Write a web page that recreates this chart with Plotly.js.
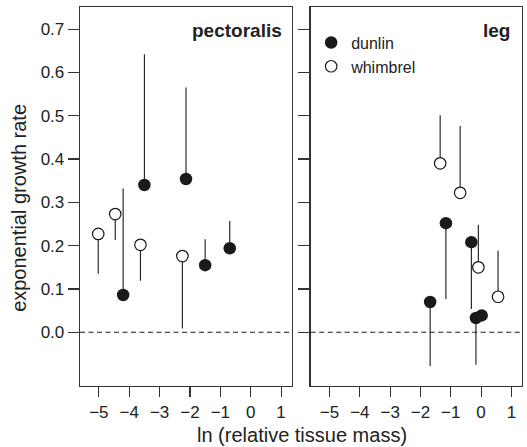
<!DOCTYPE html>
<html>
<head>
<meta charset="utf-8">
<script src="https://cdn.plot.ly/plotly-3.0.1.min.js"></script>
<style>html,body{margin:0;padding:0;background:#fff;}#chart{width:527px;height:447px;}</style>
</head>
<body>
<div id="chart"></div>
<script>
// pectoralis panel
const pecDunlinX   = [-4.2, -3.5, -2.13, -1.5, -0.69];
const pecDunlinY   = [0.086, 0.34, 0.354, 0.155, 0.194];
const pecDunlinEnd = [0.332, 0.642, 0.565, 0.215, 0.257];
const pecWhimX     = [-5.02, -4.46, -3.63, -2.25];
const pecWhimY     = [0.227, 0.273, 0.202, 0.176];
const pecWhimEnd   = [0.135, 0.213, 0.119, 0.009];
// leg panel
const legDunlinX   = [-1.68, -1.16, -0.32, -0.17, 0.02];
const legDunlinY   = [0.07, 0.252, 0.208, 0.033, 0.039];
const legDunlinEnd = [-0.078, 0.077, 0.054, -0.075, 0.039];
const legWhimX     = [-1.35, -0.69, -0.09, 0.56];
const legWhimY     = [0.39, 0.322, 0.15, 0.082];
const legWhimEnd   = [0.501, 0.476, 0.248, 0.188];

const xTicks = [-5, -4, -3, -2, -1, 0, 1];
const yTicks = [0, 0.1, 0.2, 0.3, 0.4, 0.5, 0.6, 0.7];

function errs(y, end) {
  return {
    type: 'data', symmetric: false,
    array: y.map((v, i) => Math.max(0, end[i] - v)),
    arrayminus: y.map((v, i) => Math.max(0, v - end[i])),
    width: 0, thickness: 1.1, color: '#1a1a1a'
  };
}
const filled = {size: 12.5, color: '#1a1a1a', line: {width: 0}};
const open = {size: 11.5, color: '#ffffff', line: {width: 1.2, color: '#1a1a1a'}};

const traces = [
  {x: pecDunlinX, y: pecDunlinY, error_y: errs(pecDunlinY, pecDunlinEnd), mode: 'markers', type: 'scatter', marker: filled, xaxis: 'x', yaxis: 'y', name: 'dunlin', showlegend: true, legendgroup: 'd'},
  {x: pecWhimX, y: pecWhimY, error_y: errs(pecWhimY, pecWhimEnd), mode: 'markers', type: 'scatter', marker: open, xaxis: 'x', yaxis: 'y', name: 'whimbrel', showlegend: true, legendgroup: 'w'},
  {x: legDunlinX, y: legDunlinY, error_y: errs(legDunlinY, legDunlinEnd), mode: 'markers', type: 'scatter', marker: filled, xaxis: 'x2', yaxis: 'y2', name: 'dunlin', showlegend: false, legendgroup: 'd'},
  {x: legWhimX, y: legWhimY, error_y: errs(legWhimY, legWhimEnd), mode: 'markers', type: 'scatter', marker: open, xaxis: 'x2', yaxis: 'y2', name: 'whimbrel', showlegend: false, legendgroup: 'w'}
];

const FAM = 'Liberation Sans, Arial, sans-serif';
const axFont = {family: FAM, size: 17, color: '#222'};
const xBase = {
  range: [-5.62, 1.35], tickvals: xTicks, ticktext: xTicks.map(v => v < 0 ? '\u2212' + Math.abs(v) : String(v)),
  ticks: 'outside', ticklen: 10, tickwidth: 1.1, tickcolor: '#333',
  showline: true, mirror: true, linecolor: '#333', linewidth: 1.3,
  showgrid: false, zeroline: false, tickfont: axFont
};
const yBase = {
  range: [-0.124, 0.751], tickvals: yTicks,
  ticks: 'outside', ticklen: 11, tickwidth: 1.1, tickcolor: '#333',
  showline: true, mirror: true, linecolor: '#333', linewidth: 1.3,
  showgrid: false, zeroline: false, tickfont: axFont
};

const layout = {
  width: 527, height: 447,
  margin: {l: 80, r: 5, t: 7, b: 61},
  paper_bgcolor: '#fff', plot_bgcolor: '#fff',
  font: axFont,
  xaxis: Object.assign({}, xBase, {domain: [0, 0.479], anchor: 'y'}),
  xaxis2: Object.assign({}, xBase, {domain: [0.522, 1], anchor: 'y2'}),
  yaxis: Object.assign({}, yBase, {domain: [0, 1], anchor: 'x', tickformat: '.1f'}),
  yaxis2: Object.assign({}, yBase, {domain: [0, 1], anchor: 'x2', showticklabels: false}),
  showlegend: true,
  legend: {x: 0.523, y: 0.951, xanchor: 'left', yanchor: 'top', bgcolor: 'rgba(0,0,0,0)',
           font: {family: FAM, size: 16, color: '#222'},
           tracegroupgap: 0, itemwidth: 30},
  shapes: [
    {type: 'line', xref: 'x domain', yref: 'y', x0: 0, x1: 1, y0: 0, y1: 0, line: {color: '#1a1a1a', width: 1.1, dash: '5px,3.5px'}},
    {type: 'line', xref: 'x2 domain', yref: 'y2', x0: 0, x1: 1, y0: 0, y1: 0, line: {color: '#1a1a1a', width: 1.1, dash: '5px,3.5px'}}
  ],
  annotations: [
    {text: '<b>pectoralis</b>', xref: 'x domain', yref: 'paper', x: 0.965, y: 0.938, xanchor: 'right', yanchor: 'middle', showarrow: false, font: {family: FAM, size: 19, color: '#222'}},
    {text: '<b>leg</b>', xref: 'x2 domain', yref: 'paper', x: 0.955, y: 0.938, xanchor: 'right', yanchor: 'middle', showarrow: false, font: {family: FAM, size: 19, color: '#222'}},
    {text: 'ln (relative tissue mass)', xref: 'paper', yref: 'paper', x: 0.502, y: -0.129, xanchor: 'center', yanchor: 'middle', showarrow: false, font: {family: FAM, size: 20, color: '#222'}},
    {text: 'exponential growth rate', xref: 'paper', yref: 'paper', x: -0.138, y: 0.47, xanchor: 'center', yanchor: 'middle', textangle: -90, showarrow: false, font: {family: FAM, size: 20, color: '#222'}}
  ]
};

Plotly.newPlot('chart', traces, layout, {displayModeBar: false, staticPlot: true});
</script>
</body>
</html>
